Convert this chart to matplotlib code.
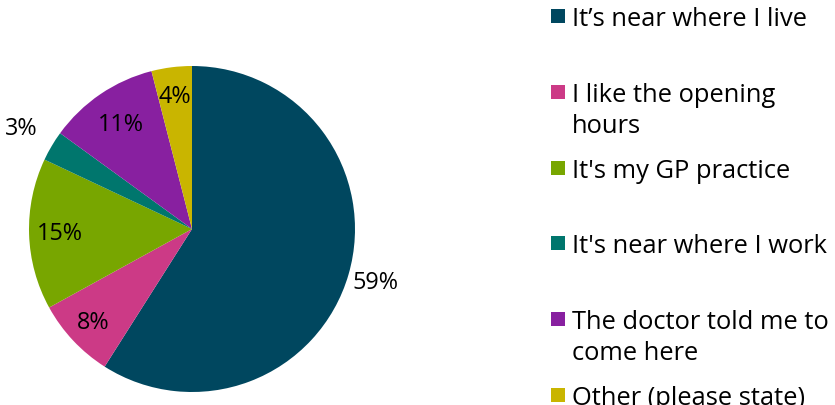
import numpy as np
import matplotlib
matplotlib.use("Agg")
import matplotlib.pyplot as plt
from matplotlib.patches import Rectangle

# Reasons for choosing the service (share of respondents, %)
labels = ["It\u2019s near where I live", "I like the opening\nhours", "It's my GP practice",
          "It's near where I work", "The doctor told me to\ncome here", "Other (please state)"]
values = [59, 8, 15, 3, 11, 4]
colors = ["#00475f", "#cc3a86", "#78a600", "#00766d", "#8820a0", "#c9b500"]

# radial position of each % label (outside for the big and the tiny slice)
label_r = [1.17, 0.83, 0.81, 1.22, 0.78, 0.82]

plt.rcParams['font.family'] = ['Open Sans', 'DejaVu Sans']

fig = plt.figure(figsize=(8.35, 4.06), dpi=100)
W, H = 835, 406

# pie centre ~ (192, 230) px, radius ~ 163 px
cx, cy, r = 192, 230, 163
ax = fig.add_axes([(cx - r) / W, (H - cy - r) / H, 2 * r / W, 2 * r / H])
wedges, _ = ax.pie(values, colors=colors, startangle=90, counterclock=False,
                   radius=1, wedgeprops=dict(linewidth=0))
ax.set_xlim(-1, 1)
ax.set_ylim(-1, 1)

for w, v, d in zip(wedges, values, label_r):
    ang = np.deg2rad((w.theta1 + w.theta2) / 2)
    ax.text(d * np.cos(ang), d * np.sin(ang), f"{v}%", ha='center', va='center',
            fontsize=16.8, color='black', clip_on=False)

# legend drawn by hand so entries are evenly spaced like the original
sq = 14
for i, (lab, col) in enumerate(zip(labels, colors)):
    yc = 17 + 75.8 * i
    fig.patches.append(Rectangle((551 / W, 1 - (yc + sq / 2) / H), sq / W, sq / H,
                                 transform=fig.transFigure, facecolor=col,
                                 edgecolor='none'))
    for k, line in enumerate(lab.split("\n")):
        fig.text(572 / W, 1 - (yc + 9 + 31 * k) / H, line, ha='left', va='baseline',
                 fontsize=18.4, color='black')

fig.savefig("out.png", dpi=100)
